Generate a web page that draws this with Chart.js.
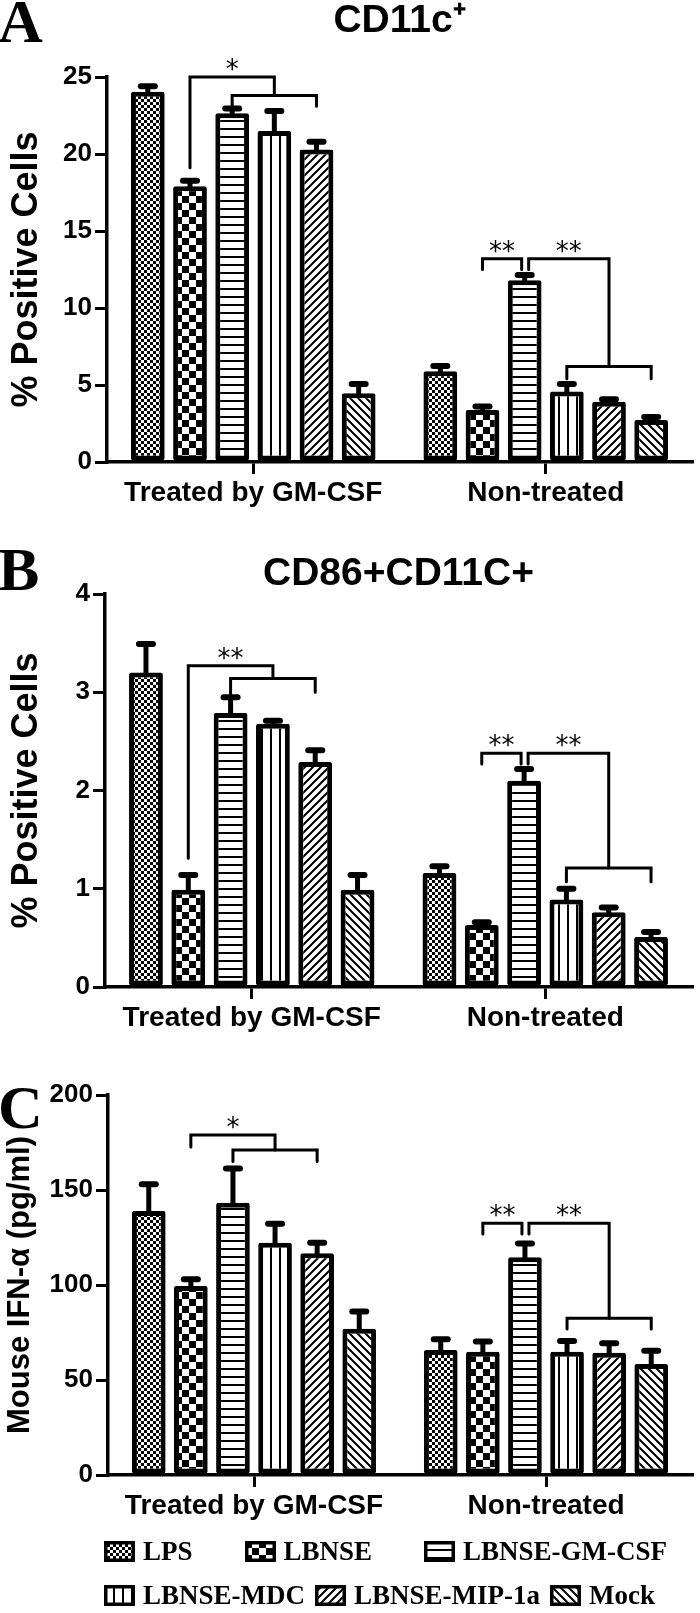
<!DOCTYPE html>
<html>
<head>
<meta charset="utf-8">
<script src="https://cdn.jsdelivr.net/npm/chart.js@4.4.0/dist/chart.umd.min.js"></script>
<style>
  html, body { margin: 0; padding: 0; background: #fff; }
  body { width: 700px; height: 1613px; position: relative; overflow: hidden; }
  .panel { position: absolute; left: 0; }
  #wrapA { top: 0; }
  #wrapB { top: 520px; }
  #wrapC { top: 1040px; }
  #legend { position: absolute; left: 0; top: 1529px; width: 700px;
            font: bold 27px "Liberation Serif", "Times New Roman", serif; color: #000; }
  .row { display: flex; align-items: center; height: 44px; padding-left: 104px; }
  .item { display: flex; align-items: center; }
  .item canvas { margin-right: 8px; }
</style>
</head>
<body>
<div class="panel" id="wrapA"><canvas id="chartA" width="700" height="520"></canvas></div>
<div class="panel" id="wrapB"><canvas id="chartB" width="700" height="520"></canvas></div>
<div class="panel" id="wrapC"><canvas id="chartC" width="700" height="490"></canvas></div>
<div id="legend"></div>

<script>
const groups = ['Treated by GM-CSF', 'Non-treated'];
const seriesNames = ['LPS', 'LBNSE', 'LBNSE-GM-CSF', 'LBNSE-MDC', 'LBNSE-MIP-1a', 'Mock'];
const fills = ['fineCheck', 'bigCheck', 'hLines', 'vLines', 'diagUp', 'diagDown'];

// panel A - CD11c+ (% positive cells), one row per series: [GM-CSF, non-treated]
const cd11cMean = [[24.05, 5.9], [17.9, 3.38], [22.64, 11.8], [21.5, 4.57], [20.3, 3.92], [4.47, 2.73]];
const cd11cSem  = [[0.35, 0.33], [0.37, 0.22], [0.32, 0.34], [1.3, 0.5], [0.5, 0.16], [0.6, 0.19]];
const cd11cTicks = [0, 5, 10, 15, 20, 25];

// panel B - CD86+CD11C+
const cd86Mean = [[3.2, 1.16], [0.99, 0.63], [2.79, 2.1], [2.68, 0.89], [2.29, 0.76], [0.99, 0.51]];
const cd86Sem  = [[0.29, 0.07], [0.15, 0.03], [0.16, 0.12], [0.03, 0.11], [0.12, 0.05], [0.15, 0.05]];
const cd86Ticks = [0, 1, 2, 3, 4];

// panel C - mouse IFN-alpha (pg/ml)
const ifnMean = [[139, 65.8], [99.5, 64.9], [143.3, 114.6], [122.3, 64.9], [116.7, 64.4], [77, 58.4]];
const ifnSem  = [[14, 5.6], [3.5, 5.3], [18, 7.3], [10, 5.6], [5.6, 4.9], [9, 7]];
const ifnTicks = [0, 50, 100, 150, 200];

// significance: [group, fromSeries, toSeries, bracket level, left leg end, right leg end, mark]
const cd11cSig = [
  [0, 1, 3, 25.0, 19.1, 23.8, '*'],
  [0, 2, 4, 23.8, 23.1, 23.1, ''],
  [1, 1, 2, 13.2, 12.5, 12.5, '**'],
  [1, 2, 4, 13.2, 12.5, 6.2, '**'],
  [1, 3, 5, 6.2, 5.4, 5.4, '']
];
const cd86Sig = [
  [0, 1, 3, 3.27, 1.31, 3.14, '**'],
  [0, 2, 4, 3.14, 2.98, 3.0, ''],
  [1, 1, 2, 2.38, 2.27, 2.27, '**'],
  [1, 2, 4, 2.38, 2.27, 1.21, '**'],
  [1, 3, 5, 1.21, 1.07, 1.07, '']
];
const ifnSig = [
  [0, 1, 3, 178.9, 172.6, 171, '*'],
  [0, 2, 4, 171, 165, 165, ''],
  [1, 1, 2, 132.5, 126.8, 126.8, '**'],
  [1, 2, 4, 132.5, 126.8, 82.5, '**'],
  [1, 3, 5, 82.5, 76.8, 76.8, '']
];

const SANS = '"Liberation Sans", Arial, sans-serif';

function makeTile(kind) {
  const c = document.createElement('canvas');
  const sizes = { fineCheck: [6, 6], bigCheck: [14, 14], hLines: [8, 8], vLines: [9, 9], diagUp: [8, 8], diagDown: [8, 8] };
  c.width = sizes[kind][0];
  c.height = sizes[kind][1];
  const g = c.getContext('2d');
  const w = c.width, h = c.height;
  g.fillStyle = '#fff';
  g.fillRect(0, 0, w, h);
  g.fillStyle = '#000';
  g.strokeStyle = '#000';
  if (kind === 'fineCheck') {
    g.fillRect(0, 0, 3, 3);
    g.fillRect(3, 3, 3, 3);
  } else if (kind === 'bigCheck') {
    g.fillRect(0, 0, 7, 7);
    g.fillRect(7, 7, 7, 7);
  } else if (kind === 'hLines') {
    g.fillRect(0, 0, w, 2);
  } else if (kind === 'vLines') {
    g.fillRect(0, 0, 2, h);
  } else {
    g.lineWidth = 2;
    g.beginPath();
    if (kind === 'diagUp') {
      g.moveTo(-1, h + 1); g.lineTo(w + 1, -1);
      g.moveTo(-1, 1); g.lineTo(1, -1);
      g.moveTo(w - 1, h + 1); g.lineTo(w + 1, h - 1);
    } else {
      g.moveTo(-1, -1); g.lineTo(w + 1, h + 1);
      g.moveTo(w - 1, -1); g.lineTo(w + 1, 1);
      g.moveTo(-1, h - 1); g.lineTo(1, h + 1);
    }
    g.stroke();
  }
  return c;
}

const tiles = fills.map(makeTile);

const errorBars = {
  id: 'errorBars',
  afterDatasetsDraw(chart) {
    const ctx = chart.ctx, y = chart.scales.y;
    ctx.save();
    ctx.strokeStyle = '#000';
    chart.data.datasets.forEach((ds, i) => {
      chart.getDatasetMeta(i).data.forEach((bar, j) => {
        const top = y.getPixelForValue(ds.data[j]);
        const end = y.getPixelForValue(ds.data[j] + ds.errors[j]);
        ctx.lineWidth = 5;
        ctx.lineCap = 'butt';
        ctx.beginPath();
        ctx.moveTo(bar.x, top + 2);
        ctx.lineTo(bar.x, end);
        ctx.stroke();
        ctx.lineWidth = 6;
        ctx.lineCap = 'round';
        ctx.beginPath();
        ctx.moveTo(bar.x - 7, end);
        ctx.lineTo(bar.x + 7, end);
        ctx.stroke();
      });
    });
    ctx.restore();
  }
};

const sigBrackets = {
  id: 'sigBrackets',
  afterDatasetsDraw(chart, args, opts) {
    const ctx = chart.ctx, y = chart.scales.y;
    const items = opts.items || [];
    const barX = (g, s) => chart.getDatasetMeta(s).data[g].x;
    ctx.save();
    ctx.strokeStyle = '#000';
    ctx.fillStyle = '#000';
    ctx.lineWidth = 3;
    ctx.lineCap = 'round';
    ctx.font = '26px "DejaVu Sans", sans-serif';
    ctx.textAlign = 'center';
    ctx.textBaseline = 'alphabetic';
    items.forEach((b, k) => {
      const [g, s1, s2, level, leg1, leg2, mark] = b;
      let x1 = barX(g, s1), x2 = barX(g, s2);
      // two brackets meeting on one bar at the same level sit apart a little
      items.forEach((o, m) => {
        if (m === k || o[0] !== g || o[3] !== level) return;
        if (o[2] === s1) x1 += 4;
        if (o[1] === s2) x2 -= 3;
      });
      const yl = y.getPixelForValue(level);
      ctx.beginPath();
      ctx.moveTo(x1, y.getPixelForValue(leg1));
      ctx.lineTo(x1, yl);
      ctx.lineTo(x2, yl);
      ctx.lineTo(x2, y.getPixelForValue(leg2));
      ctx.stroke();
      if (mark) ctx.fillText(mark, (x1 + x2) / 2, yl + 1);
    });
    ctx.restore();
  }
};

const panelLetter = {
  id: 'panelLetter',
  afterDraw(chart, args, opts) {
    const ctx = chart.ctx;
    ctx.save();
    ctx.font = 'bold 62px "Liberation Serif", "Times New Roman", serif';
    ctx.fillStyle = '#000';
    ctx.textAlign = 'left';
    ctx.textBaseline = 'alphabetic';
    ctx.fillText(opts.text, -2, opts.baseline);
    ctx.restore();
  }
};

function panelChart(id, cfg) {
  const canvas = document.getElementById(id);
  const ctx = canvas.getContext('2d');
  const patterns = tiles.map(t => ctx.createPattern(t, 'repeat'));
  return new Chart(canvas, {
    type: 'bar',
    data: {
      labels: groups,
      datasets: seriesNames.map((name, i) => ({
        label: name,
        data: cfg.means[i],
        errors: cfg.errs[i],
        backgroundColor: patterns[i],
        borderColor: '#000',
        borderWidth: 5,
        borderSkipped: false,
        borderRadius: 2,
        categoryPercentage: 0.865,
        barPercentage: 0.8
      }))
    },
    options: {
      responsive: false,
      animation: false,
      layout: { padding: cfg.padding },
      plugins: {
        legend: { display: false },
        tooltip: { enabled: false },
        title: cfg.title ? {
          display: true,
          text: cfg.title,
          fullSize: false,
          color: '#000',
          font: { family: SANS, size: 39, weight: 'bold', lineHeight: 1 },
          padding: cfg.titlePad
        } : { display: false },
        panelLetter: { text: cfg.letter, baseline: cfg.letterY },
        sigBrackets: { items: cfg.sig }
      },
      scales: {
        x: {
          grid: { offset: false, drawOnChartArea: false, drawTicks: true, tickLength: 12, color: '#000', lineWidth: 3 },
          border: { display: true, color: '#000', width: 3.5 },
          ticks: { color: '#000', font: { family: SANS, size: 28, weight: 'bold' }, padding: 2 },
          afterFit: s => { s.height = 45; }
        },
        y: {
          min: cfg.ticks[0],
          max: cfg.ticks[cfg.ticks.length - 1],
          afterBuildTicks: s => { s.ticks = cfg.ticks.map(v => ({ value: v })); },
          ticks: { color: '#000', font: { family: SANS, size: 26, weight: 'bold' }, padding: 3 },
          grid: { drawOnChartArea: false, tickLength: 12, color: '#000', lineWidth: 3 },
          border: { display: true, color: '#000', width: 3.5 },
          title: {
            display: true,
            text: cfg.yTitle,
            color: '#000',
            font: { family: SANS, size: cfg.yTitleSize, weight: 'bold', lineHeight: 1 },
            padding: { top: cfg.yTitleOffset, bottom: 0 }
          },
          afterFit: s => { s.width = cfg.left; }
        }
      }
    },
    plugins: [errorBars, sigBrackets, panelLetter]
  });
}

panelChart('chartA', {
  means: cd11cMean, errs: cd11cSem, ticks: cd11cTicks, sig: cd11cSig,
  title: 'CD11c\u207A', titlePad: { top: 2, bottom: 36 },
  yTitle: '% Positive Cells', yTitleSize: 36, yTitleOffset: 9,
  letter: 'A', letterY: 42, left: 107,
  padding: { top: 0, right: 8, bottom: 13, left: 0 }
});

panelChart('chartB', {
  means: cd86Mean, errs: cd86Sem, ticks: cd86Ticks, sig: cd86Sig,
  title: 'CD86+CD11C+', titlePad: { top: 35, bottom: 0 },
  yTitle: '% Positive Cells', yTitleSize: 36, yTitleOffset: 9,
  letter: 'B', letterY: 70, left: 105,
  padding: { top: 0, right: 8, bottom: 8, left: 0 }
});

panelChart('chartC', {
  means: ifnMean, errs: ifnSem, ticks: ifnTicks, sig: ifnSig,
  title: null,
  yTitle: 'Mouse IFN-\u03B1 (pg/ml)', yTitleSize: 31, yTitleOffset: 5,
  letter: 'C', letterY: 88, left: 108,
  padding: { top: 55, right: 8, bottom: 10, left: 0 }
});

// legend: two rows under panel C
const legend = document.getElementById('legend');
[[0, 1, 2], [3, 4, 5]].forEach((idx, r) => {
  const row = document.createElement('div');
  row.className = 'row';
  row.style.gap = r === 0 ? '52px' : '10px';
  idx.forEach(i => {
    const item = document.createElement('div');
    item.className = 'item';
    const sw = document.createElement('canvas');
    sw.width = 31;
    sw.height = 21;
    const g = sw.getContext('2d');
    g.fillStyle = g.createPattern(tiles[i], 'repeat');
    g.fillRect(0, 0, 31, 21);
    g.strokeStyle = '#000';
    g.lineWidth = 3.5;
    g.strokeRect(1.75, 1.75, 27.5, 17.5);
    item.appendChild(sw);
    const label = document.createElement('span');
    label.textContent = seriesNames[i];
    item.appendChild(label);
    row.appendChild(item);
  });
  legend.appendChild(row);
});
</script>
</body>
</html>
